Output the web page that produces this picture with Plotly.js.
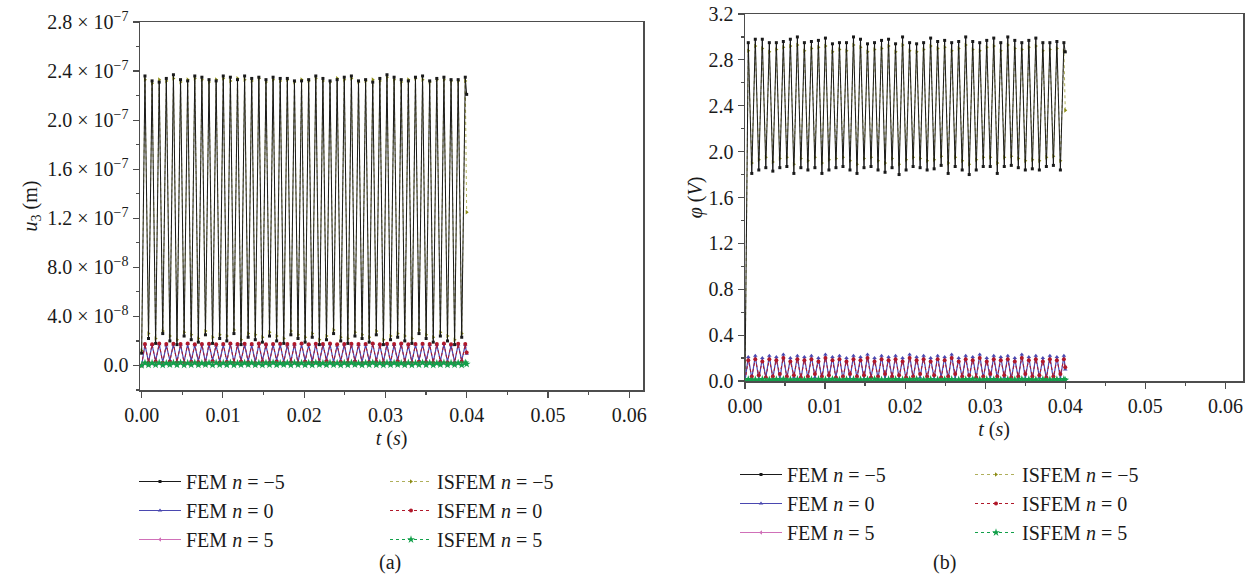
<!DOCTYPE html>
<html>
<head>
<meta charset="utf-8">
<script src="https://cdn.plot.ly/plotly-3.0.1.min.js"></script>
<style>
  html, body { margin: 0; padding: 0; background: #fff; }
  #chart { width: 1253px; height: 588px; }
</style>
</head>
<body>
<div id="chart"></div>
<script>
// Sample times (s): start, then alternating crest / trough samples, then end of run
const timeS = [0,
  0.000410, 0.000848, 0.001286, 0.001724, 0.002162, 0.002600, 0.003038, 0.003476, 0.003914, 0.004352,
  0.004790, 0.005228, 0.005666, 0.006104, 0.006542, 0.006980, 0.007418, 0.007856, 0.008294, 0.008732,
  0.009170, 0.009608, 0.010046, 0.010484, 0.010922, 0.011360, 0.011798, 0.012236, 0.012674, 0.013112,
  0.013550, 0.013988, 0.014426, 0.014864, 0.015302, 0.015740, 0.016178, 0.016616, 0.017054, 0.017492,
  0.017930, 0.018368, 0.018806, 0.019244, 0.019682, 0.020120, 0.020558, 0.020996, 0.021434, 0.021872,
  0.022310, 0.022748, 0.023186, 0.023624, 0.024062, 0.024500, 0.024938, 0.025376, 0.025814, 0.026252,
  0.026690, 0.027128, 0.027566, 0.028004, 0.028442, 0.028880, 0.029318, 0.029756, 0.030194, 0.030632,
  0.031070, 0.031508, 0.031946, 0.032384, 0.032822, 0.033260, 0.033698, 0.034136, 0.034574, 0.035012,
  0.035450, 0.035888, 0.036326, 0.036764, 0.037202, 0.037640, 0.038078, 0.038516, 0.038954, 0.039392,
  0.039830, 0.040000];

// (a) displacement u3 (m)
const u3FemNm5 = [1.0e-8,
  2.36e-7,2.2e-8, 2.32e-7,1.8e-8, 2.31e-7,2.6e-8, 2.34e-7,2.0e-8, 2.37e-7,1.7e-8, 2.33e-7,2.4e-8, 2.32e-7,2.1e-8, 2.36e-7,1.9e-8, 2.35e-7,2.5e-8, 2.33e-7,1.8e-8,
  2.32e-7,2.2e-8, 2.36e-7,2.0e-8, 2.35e-7,2.6e-8, 2.33e-7,1.7e-8, 2.36e-7,2.3e-8, 2.34e-7,2.1e-8, 2.35e-7,1.9e-8, 2.33e-7,2.4e-8, 2.35e-7,2.0e-8, 2.34e-7,1.8e-8,
  2.34e-7,2.5e-8, 2.32e-7,2.2e-8, 2.32e-7,1.9e-8, 2.33e-7,2.3e-8, 2.36e-7,1.7e-8, 2.34e-7,2.1e-8, 2.32e-7,2.6e-8, 2.33e-7,2.0e-8, 2.35e-7,1.8e-8, 2.36e-7,2.4e-8,
  2.32e-7,2.2e-8, 2.33e-7,1.9e-8, 2.31e-7,2.5e-8, 2.34e-7,1.7e-8, 2.37e-7,2.1e-8, 2.35e-7,2.3e-8, 2.33e-7,2.0e-8, 2.32e-7,1.8e-8, 2.35e-7,2.6e-8, 2.36e-7,2.2e-8,
  2.32e-7,1.9e-8, 2.34e-7,2.4e-8, 2.35e-7,2.0e-8, 2.33e-7,1.7e-8, 2.33e-7,2.3e-8,
  2.35e-7, 2.21e-7];
const u3IsfemNm5 = [1.2e-8,
  2.33e-7,2.6e-8, 2.30e-7,2.2e-8, 2.33e-7,2.8e-8, 2.32e-7,2.4e-8, 2.34e-7,2.1e-8, 2.31e-7,2.7e-8, 2.33e-7,2.5e-8, 2.34e-7,2.2e-8, 2.33e-7,2.8e-8, 2.31e-7,2.3e-8,
  2.33e-7,2.5e-8, 2.34e-7,2.4e-8, 2.32e-7,2.9e-8, 2.34e-7,2.1e-8, 2.33e-7,2.6e-8, 2.32e-7,2.5e-8, 2.34e-7,2.3e-8, 2.31e-7,2.7e-8, 2.33e-7,2.4e-8, 2.32e-7,2.2e-8,
  2.33e-7,2.8e-8, 2.31e-7,2.5e-8, 2.33e-7,2.3e-8, 2.32e-7,2.6e-8, 2.34e-7,2.1e-8, 2.32e-7,2.4e-8, 2.31e-7,2.9e-8, 2.34e-7,2.3e-8, 2.33e-7,2.2e-8, 2.34e-7,2.7e-8,
  2.31e-7,2.5e-8, 2.32e-7,2.3e-8, 2.33e-7,2.8e-8, 2.32e-7,2.1e-8, 2.35e-7,2.4e-8, 2.33e-7,2.6e-8, 2.31e-7,2.4e-8, 2.33e-7,2.2e-8, 2.34e-7,2.9e-8, 2.33e-7,2.5e-8,
  2.31e-7,2.3e-8, 2.33e-7,2.7e-8, 2.33e-7,2.4e-8, 2.32e-7,2.1e-8, 2.32e-7,2.6e-8,
  2.32e-7, 1.25e-7];
const u3FemN0 = [0,
  1.70e-8,3.0e-9, 1.66e-8,3.8e-9, 1.73e-8,2.7e-9, 1.64e-8,4.2e-9, 1.71e-8,3.3e-9, 1.68e-8,2.9e-9, 1.74e-8,4.0e-9, 1.65e-8,3.5e-9, 1.70e-8,2.6e-9, 1.72e-8,4.4e-9,
  1.63e-8,3.1e-9, 1.69e-8,3.7e-9, 1.75e-8,2.8e-9, 1.66e-8,4.1e-9, 1.71e-8,3.4e-9, 1.67e-8,2.7e-9, 1.73e-8,3.9e-9, 1.64e-8,3.2e-9, 1.70e-8,4.3e-9, 1.72e-8,2.9e-9,
  1.65e-8,3.6e-9, 1.69e-8,2.6e-9, 1.74e-8,4.0e-9, 1.66e-8,3.3e-9, 1.71e-8,3.0e-9, 1.68e-8,4.5e-9, 1.73e-8,2.8e-9, 1.63e-8,3.7e-9, 1.70e-8,3.1e-9, 1.72e-8,4.2e-9,
  1.66e-8,2.7e-9, 1.69e-8,3.5e-9, 1.75e-8,3.9e-9, 1.65e-8,3.0e-9, 1.71e-8,2.6e-9, 1.67e-8,4.4e-9, 1.73e-8,3.3e-9, 1.64e-8,2.9e-9, 1.70e-8,4.1e-9, 1.72e-8,3.6e-9,
  1.66e-8,2.8e-9, 1.69e-8,3.8e-9, 1.74e-8,3.2e-9, 1.65e-8,2.7e-9, 1.71e-8,4.0e-9,
  1.68e-8, 9.5e-9];
const u3IsfemN0 = [0,
  1.76e-8,2.4e-9, 1.73e-8,3.0e-9, 1.79e-8,2.2e-9, 1.74e-8,3.1e-9, 1.77e-8,2.5e-9, 1.75e-8,2.1e-9, 1.80e-8,2.9e-9, 1.73e-8,2.7e-9, 1.76e-8,2.0e-9, 1.78e-8,3.2e-9,
  1.72e-8,2.4e-9, 1.76e-8,2.8e-9, 1.80e-8,2.2e-9, 1.74e-8,3.0e-9, 1.77e-8,2.6e-9, 1.75e-8,2.1e-9, 1.79e-8,2.9e-9, 1.73e-8,2.5e-9, 1.76e-8,3.1e-9, 1.78e-8,2.3e-9,
  1.74e-8,2.7e-9, 1.76e-8,2.0e-9, 1.79e-8,3.0e-9, 1.73e-8,2.5e-9, 1.77e-8,2.3e-9, 1.75e-8,3.2e-9, 1.79e-8,2.2e-9, 1.72e-8,2.8e-9, 1.76e-8,2.4e-9, 1.78e-8,3.1e-9,
  1.74e-8,2.1e-9, 1.76e-8,2.7e-9, 1.80e-8,2.9e-9, 1.73e-8,2.4e-9, 1.77e-8,2.0e-9, 1.75e-8,3.2e-9, 1.79e-8,2.5e-9, 1.73e-8,2.2e-9, 1.76e-8,3.0e-9, 1.78e-8,2.7e-9,
  1.74e-8,2.2e-9, 1.76e-8,2.9e-9, 1.79e-8,2.5e-9, 1.73e-8,2.1e-9, 1.77e-8,3.0e-9,
  1.75e-8, 1.05e-8];
const u3FemN5 = [0,
  1.8e-9,3e-10, 1.7e-9,4e-10, 1.9e-9,2e-10, 1.6e-9,5e-10, 1.8e-9,3e-10, 2.0e-9,2e-10, 1.7e-9,4e-10, 1.9e-9,3e-10, 1.6e-9,5e-10, 1.8e-9,2e-10,
  1.9e-9,4e-10, 1.7e-9,3e-10, 2.0e-9,2e-10, 1.6e-9,4e-10, 1.8e-9,5e-10, 1.9e-9,3e-10, 1.7e-9,2e-10, 1.8e-9,4e-10, 2.0e-9,3e-10, 1.6e-9,5e-10,
  1.8e-9,2e-10, 1.9e-9,4e-10, 1.7e-9,3e-10, 1.8e-9,2e-10, 2.0e-9,5e-10, 1.6e-9,3e-10, 1.9e-9,4e-10, 1.7e-9,2e-10, 1.8e-9,3e-10, 1.9e-9,5e-10,
  1.6e-9,2e-10, 1.8e-9,4e-10, 2.0e-9,3e-10, 1.7e-9,2e-10, 1.9e-9,4e-10, 1.8e-9,5e-10, 1.6e-9,3e-10, 1.9e-9,2e-10, 1.7e-9,4e-10, 2.0e-9,3e-10,
  1.8e-9,2e-10, 1.6e-9,5e-10, 1.9e-9,3e-10, 1.7e-9,4e-10, 1.8e-9,2e-10,
  1.9e-9, 1.0e-9];
const u3IsfemN5 = [0,
  2.1e-9,5e-10, 2.0e-9,6e-10, 2.2e-9,4e-10, 1.9e-9,7e-10, 2.1e-9,5e-10, 2.3e-9,4e-10, 2.0e-9,6e-10, 2.2e-9,5e-10, 1.9e-9,7e-10, 2.1e-9,4e-10,
  2.2e-9,6e-10, 2.0e-9,5e-10, 2.3e-9,4e-10, 1.9e-9,6e-10, 2.1e-9,7e-10, 2.2e-9,5e-10, 2.0e-9,4e-10, 2.1e-9,6e-10, 2.3e-9,5e-10, 1.9e-9,7e-10,
  2.1e-9,4e-10, 2.2e-9,6e-10, 2.0e-9,5e-10, 2.1e-9,4e-10, 2.3e-9,7e-10, 1.9e-9,5e-10, 2.2e-9,6e-10, 2.0e-9,4e-10, 2.1e-9,5e-10, 2.2e-9,7e-10,
  1.9e-9,4e-10, 2.1e-9,6e-10, 2.3e-9,5e-10, 2.0e-9,4e-10, 2.2e-9,6e-10, 2.1e-9,7e-10, 1.9e-9,5e-10, 2.2e-9,4e-10, 2.0e-9,6e-10, 2.3e-9,5e-10,
  2.1e-9,4e-10, 1.9e-9,7e-10, 2.2e-9,5e-10, 2.0e-9,6e-10, 2.1e-9,4e-10,
  2.2e-9, 1.2e-9];

// (b) electric potential phi (V)
const phiFemNm5 = [0,
  2.95,1.81, 2.98,1.84, 2.98,1.86, 2.95,1.83, 2.95,1.86, 2.96,1.87, 2.98,1.81, 3.00,1.86, 2.95,1.84, 2.96,1.86,
  2.97,1.81, 2.99,1.84, 2.94,1.86, 2.95,1.87, 2.95,1.84, 3.00,1.81, 2.98,1.86, 2.94,1.87, 2.95,1.84, 2.97,1.82,
  2.98,1.86, 2.94,1.80, 3.00,1.84, 2.95,1.87, 2.94,1.86, 2.95,1.84, 2.99,1.85, 2.96,1.88, 2.97,1.81, 2.95,1.87,
  2.96,1.84, 3.00,1.80, 2.96,1.84, 2.95,1.87, 2.97,1.87, 2.99,1.81, 2.95,1.87, 3.00,1.88, 2.97,1.86, 2.95,1.84,
  2.97,1.85, 2.99,1.84, 2.95,1.87, 2.95,1.88, 2.96,1.84,
  2.95, 2.87];
const phiIsfemNm5 = [0,
  2.88,1.90, 2.92,1.93, 2.90,1.95, 2.87,1.91, 2.89,1.94, 2.91,1.95, 2.92,1.89, 2.93,1.94, 2.88,1.92, 2.90,1.95,
  2.91,1.90, 2.92,1.93, 2.87,1.94, 2.89,1.95, 2.88,1.92, 2.93,1.89, 2.91,1.94, 2.87,1.95, 2.89,1.92, 2.90,1.90,
  2.92,1.94, 2.87,1.89, 2.93,1.93, 2.88,1.95, 2.87,1.94, 2.89,1.92, 2.92,1.93, 2.90,1.96, 2.91,1.90, 2.88,1.95,
  2.90,1.92, 2.93,1.89, 2.89,1.93, 2.88,1.95, 2.91,1.95, 2.92,1.90, 2.88,1.95, 2.93,1.96, 2.90,1.94, 2.89,1.92,
  2.91,1.93, 2.92,1.92, 2.88,1.95, 2.89,1.96, 2.90,1.92,
  2.88, 2.36];
const phiFemN0 = [0,
  0.21,0.02, 0.22,0.01, 0.20,0.03, 0.22,0.02, 0.21,0.01, 0.23,0.02, 0.20,0.03, 0.22,0.01, 0.21,0.02, 0.22,0.03,
  0.20,0.01, 0.23,0.02, 0.21,0.03, 0.22,0.01, 0.20,0.02, 0.22,0.02, 0.21,0.01, 0.23,0.03, 0.20,0.02, 0.22,0.01,
  0.21,0.03, 0.22,0.02, 0.20,0.01, 0.23,0.02, 0.21,0.03, 0.22,0.01, 0.20,0.02, 0.22,0.03, 0.21,0.01, 0.23,0.02,
  0.20,0.02, 0.22,0.01, 0.21,0.03, 0.23,0.02, 0.20,0.01, 0.22,0.02, 0.21,0.03, 0.22,0.01, 0.20,0.02, 0.23,0.02,
  0.21,0.01, 0.22,0.03, 0.20,0.02, 0.22,0.01, 0.21,0.02,
  0.22, 0.10];
const phiIsfemN0 = [0,
  0.18,0.04, 0.19,0.05, 0.17,0.03, 0.19,0.04, 0.18,0.06, 0.20,0.04, 0.17,0.05, 0.19,0.03, 0.18,0.04, 0.19,0.06,
  0.17,0.04, 0.20,0.05, 0.18,0.03, 0.19,0.04, 0.17,0.06, 0.19,0.04, 0.18,0.05, 0.20,0.03, 0.17,0.04, 0.19,0.06,
  0.18,0.04, 0.19,0.05, 0.17,0.03, 0.20,0.04, 0.18,0.06, 0.19,0.04, 0.17,0.05, 0.19,0.03, 0.18,0.04, 0.20,0.06,
  0.17,0.04, 0.19,0.05, 0.18,0.03, 0.20,0.04, 0.17,0.06, 0.19,0.04, 0.18,0.05, 0.19,0.03, 0.17,0.04, 0.20,0.06,
  0.18,0.04, 0.19,0.05, 0.17,0.03, 0.19,0.04, 0.18,0.06,
  0.19, 0.12];
const phiFemN5 = [0,
  0.012,0.002, 0.011,0.003, 0.013,0.001, 0.010,0.002, 0.012,0.003, 0.014,0.001, 0.011,0.002, 0.013,0.003, 0.010,0.001, 0.012,0.002,
  0.013,0.003, 0.011,0.001, 0.014,0.002, 0.010,0.003, 0.012,0.001, 0.013,0.002, 0.011,0.003, 0.012,0.001, 0.014,0.002, 0.010,0.003,
  0.012,0.001, 0.013,0.002, 0.011,0.003, 0.012,0.001, 0.014,0.002, 0.010,0.003, 0.013,0.001, 0.011,0.002, 0.012,0.003, 0.013,0.001,
  0.010,0.002, 0.012,0.003, 0.014,0.001, 0.011,0.002, 0.013,0.003, 0.012,0.001, 0.010,0.002, 0.013,0.003, 0.011,0.001, 0.014,0.002,
  0.012,0.003, 0.010,0.001, 0.013,0.002, 0.011,0.003, 0.012,0.001,
  0.013, 0.007];
const phiIsfemN5 = [0,
  0.014,0.003, 0.013,0.004, 0.015,0.002, 0.012,0.003, 0.014,0.004, 0.016,0.002, 0.013,0.003, 0.015,0.004, 0.012,0.002, 0.014,0.003,
  0.015,0.004, 0.013,0.002, 0.016,0.003, 0.012,0.004, 0.014,0.002, 0.015,0.003, 0.013,0.004, 0.014,0.002, 0.016,0.003, 0.012,0.004,
  0.014,0.002, 0.015,0.003, 0.013,0.004, 0.014,0.002, 0.016,0.003, 0.012,0.004, 0.015,0.002, 0.013,0.003, 0.014,0.004, 0.015,0.002,
  0.012,0.003, 0.014,0.004, 0.016,0.002, 0.013,0.003, 0.015,0.004, 0.014,0.002, 0.012,0.003, 0.015,0.004, 0.013,0.002, 0.016,0.003,
  0.014,0.004, 0.012,0.002, 0.015,0.003, 0.013,0.004, 0.014,0.002,
  0.015, 0.008];

// Legend names
const seriesNames = ['FEM <i>n</i> = −5', 'FEM <i>n</i> = 0', 'FEM <i>n</i> = 5',
                     'ISFEM <i>n</i> = −5', 'ISFEM <i>n</i> = 0', 'ISFEM <i>n</i> = 5'];

// Axis tick labels
const u3TickVals = [0, 4e-8, 8e-8, 1.2e-7, 1.6e-7, 2.0e-7, 2.4e-7, 2.8e-7];
const u3TickText = ['0.0', '4.0 × 10<sup>−8</sup>', '8.0 × 10<sup>−8</sup>', '1.2 × 10<sup>−7</sup>',
                    '1.6 × 10<sup>−7</sup>', '2.0 × 10<sup>−7</sup>', '2.4 × 10<sup>−7</sup>', '2.8 × 10<sup>−7</sup>'];
const u3MinorVals = [-2e-8, 2e-8, 6e-8, 1.0e-7, 1.4e-7, 1.8e-7, 2.2e-7, 2.6e-7];

const FONT = '"Liberation Serif", "Times New Roman", serif';
const styles = [
  {color: '#1a1a1a', dash: 'solid', width: 1.0, symbol: 'square', size: 3},
  {color: '#4a48b0', dash: 'solid', width: 1.2, symbol: 'triangle-up', size: 4},
  {color: '#d070b8', dash: 'solid', width: 1.2, symbol: 'triangle-left', size: 4},
  {color: '#8c8c14', dash: 'dot', width: 0.7, symbol: 'triangle-right', size: 4},
  {color: '#b0182a', dash: 'dot', width: 1.0, symbol: 'circle', size: 4},
  {color: '#12a04a', dash: 'dot', width: 1.0, symbol: 'star', size: 6}
];

function mk(y, i, xa, ya, legendId) {
  const s = styles[i];
  return {
    x: timeS, y: y, type: 'scatter', mode: 'lines+markers',
    name: seriesNames[i], xaxis: xa, yaxis: ya, legend: legendId,
    line: {color: s.color, dash: s.dash, width: s.width},
    marker: {color: s.color, symbol: s.symbol, size: s.size}
  };
}

const dataA = [u3FemNm5, u3FemN0, u3FemN5, u3IsfemNm5, u3IsfemN0, u3IsfemN5];
const dataB = [phiFemNm5, phiFemN0, phiFemN5, phiIsfemNm5, phiIsfemN0, phiIsfemN5];
// drawing order: the olive ISFEM n = -5 curve sits underneath the black FEM curve
const drawOrder = [3, 0, 1, 4, 2, 5];

const traces = [];
drawOrder.forEach(i => traces.push(mk(dataA[i], i, 'x', 'y', i < 3 ? 'legend' : 'legend2')));
drawOrder.forEach(i => traces.push(mk(dataB[i], i, 'x2', 'y2', i < 3 ? 'legend3' : 'legend4')));

const W = 1253, H = 588;
const tickFont = {family: FONT, size: 20, color: '#1a1a1a'};
const titleFont = {family: FONT, size: 20, color: '#1a1a1a'};
const axisCommon = {
  showgrid: false, zeroline: false, showline: true, mirror: true,
  linecolor: '#4d4d4d', linewidth: 1.5,
  ticks: 'outside', ticklen: 6, tickwidth: 1.2, tickcolor: '#4d4d4d',
  tickfont: tickFont
};
const legendCommon = {
  orientation: 'v', xanchor: 'left', yanchor: 'top', traceorder: 'normal',
  font: {family: FONT, size: 20, color: '#1a1a1a'},
  bgcolor: 'rgba(0,0,0,0)', borderwidth: 0, itemwidth: 42
};

const layout = {
  width: W, height: H,
  paper_bgcolor: '#ffffff', plot_bgcolor: '#ffffff',
  margin: {l: 0, r: 0, t: 0, b: 0},
  font: {family: FONT, color: '#1a1a1a'},
  xaxis: Object.assign({}, axisCommon, {
    domain: [140 / W, 643 / W], anchor: 'y',
    range: [-0.0002, 0.0617], tickmode: 'linear', tick0: 0, dtick: 0.01, tickformat: '.2f',
    minor: {dtick: 0.005, tick0: 0, ticklen: 3, tickcolor: '#4d4d4d', ticks: 'outside'},
    title: {text: '<i>t</i> (<i>s</i>)', font: titleFont, standoff: 6}
  }),
  yaxis: Object.assign({}, axisCommon, {
    domain: [1 - 390 / H, 1 - 22 / H], anchor: 'x',
    range: [-2e-8, 2.8e-7], tickmode: 'array', tickvals: u3TickVals, ticktext: u3TickText,
    minor: {tickmode: 'array', tickvals: u3MinorVals, ticklen: 3, tickcolor: '#4d4d4d', ticks: 'outside'},
    title: {text: '<i>u</i><sub>3</sub> (m)', font: titleFont, standoff: 4}
  }),
  xaxis2: Object.assign({}, axisCommon, {
    domain: [745 / W, 1243 / W], anchor: 'y2',
    range: [0, 0.0622], tickmode: 'linear', tick0: 0, dtick: 0.01, tickformat: '.2f',
    minor: {dtick: 0.005, tick0: 0, ticklen: 3, tickcolor: '#4d4d4d', ticks: 'outside'},
    title: {text: '<i>t</i> (<i>s</i>)', font: titleFont, standoff: 6}
  }),
  yaxis2: Object.assign({}, axisCommon, {
    domain: [1 - 381 / H, 1 - 14 / H], anchor: 'x2',
    range: [0, 3.2], tickmode: 'linear', tick0: 0, dtick: 0.4, tickformat: '.1f',
    minor: {dtick: 0.2, tick0: 0, ticklen: 3, tickcolor: '#4d4d4d', ticks: 'outside'},
    title: {text: '<i>φ</i> (<i>V</i>)', font: titleFont, standoff: 0}
  }),
  legend:  Object.assign({}, legendCommon, {x: 134 / W, y: 1 - 462 / H}),
  legend2: Object.assign({}, legendCommon, {x: 385 / W, y: 1 - 462 / H}),
  legend3: Object.assign({}, legendCommon, {x: 735 / W, y: 1 - 455 / H}),
  legend4: Object.assign({}, legendCommon, {x: 970 / W, y: 1 - 455 / H}),
  annotations: [
    {text: '(a)', x: 377 / W, y: 1 - 576 / H, xref: 'paper', yref: 'paper', showarrow: false,
     font: {family: FONT, size: 20, color: '#1a1a1a'}},
    {text: '(b)', x: 958 / W, y: 1 - 576 / H, xref: 'paper', yref: 'paper', showarrow: false,
     font: {family: FONT, size: 20, color: '#1a1a1a'}}
  ],
  showlegend: true
};

Plotly.newPlot('chart', traces, layout, {staticPlot: true, displayModeBar: false});
</script>
</body>
</html>
